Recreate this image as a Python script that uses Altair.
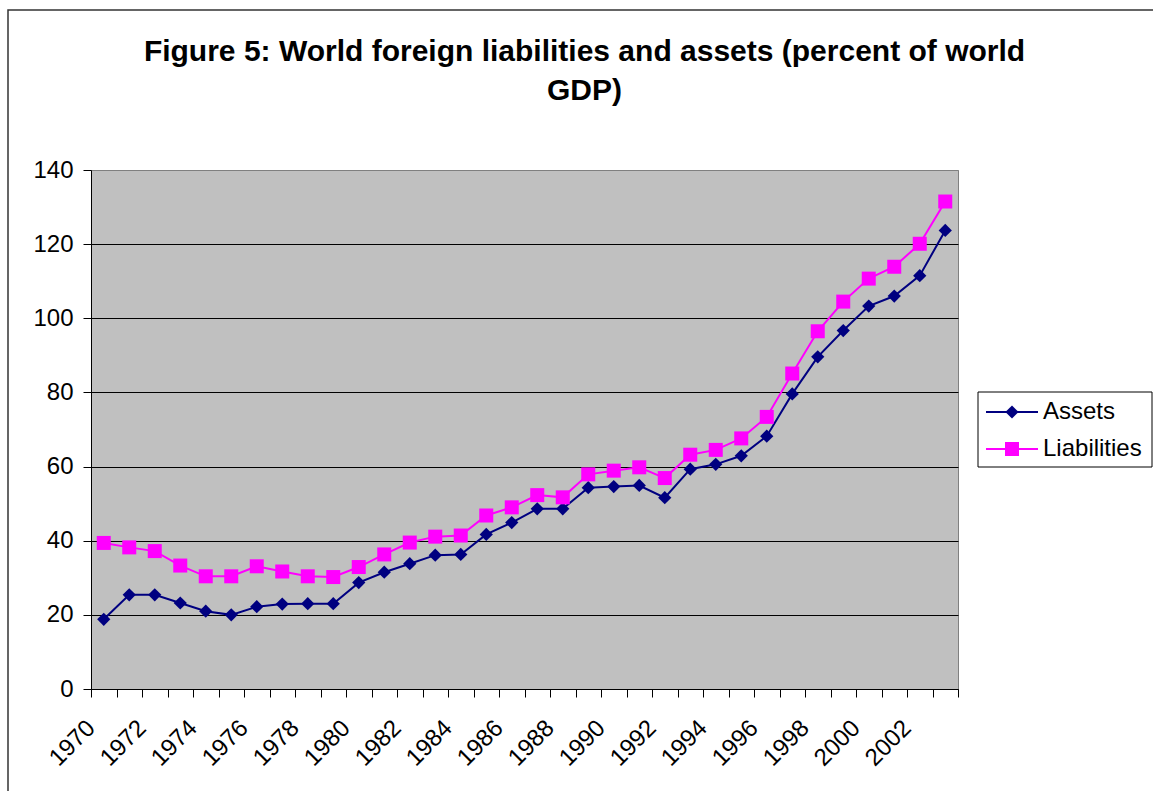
import altair as alt
import pandas as pd

years = list(range(1970, 2004))
assets = [18.8, 25.4, 25.4, 23.2, 21.0, 20.0, 22.2, 22.9, 23.0, 23.0,
          28.7, 31.5, 33.8, 36.1, 36.3, 41.7, 44.9, 48.6, 48.6, 54.3,
          54.6, 54.9, 51.6, 59.3, 60.6, 62.9, 68.2, 79.6, 89.6, 96.7,
          103.3, 106.0, 111.5, 123.7]
liabilities = [39.4, 38.2, 37.2, 33.3, 30.4, 30.4, 33.1, 31.7, 30.4, 30.2,
               32.9, 36.3, 39.5, 41.1, 41.4, 46.8, 49.0, 52.3, 51.7, 57.9,
               58.9, 59.8, 56.9, 63.2, 64.5, 67.6, 73.4, 85.1, 96.5, 104.5,
               110.7, 113.9, 120.1, 131.5]
series_names = ["Assets", "Liabilities"]
series_colors = ["#000080", "#FF00FF"]
series_shapes = ["diamond", "square"]
series_sizes = [175, 196]
y_ticks = [0, 20, 40, 60, 80, 100, 120, 140]
x_boundaries = [y - 0.5 for y in years] + [years[-1] + 0.5]

title_lines = ["Figure 5: World foreign liabilities and assets (percent of world", "GDP)"]

rows = []
for yr, a, l in zip(years, assets, liabilities):
    rows.append({"year": yr, "value": a, "series": "Assets"})
    rows.append({"year": yr, "value": l, "series": "Liabilities"})
df = pd.DataFrame(rows)

FONT = "Arial, Liberation Sans, sans-serif"

x_enc = alt.X(
    "year:Q",
    scale=alt.Scale(domain=[x_boundaries[0], x_boundaries[-1]], nice=False, zero=False),
    axis=alt.Axis(
        values=x_boundaries, title=None, grid=False, tickSize=8, tickColor="black",
        domainColor="black", labelAngle=-45, labelAlign="right", labelBaseline="middle",
        labelPadding=27, labelFont=FONT, labelFontSize=24, labelColor="black",
        labelOverlap=False, labelFlush=False,
        labelExpr="((datum.value + 0.5) % 2 == 0 && datum.value < 2002) ? toString(datum.value + 0.5) : ''",
    ),
)
y_enc = alt.Y(
    "value:Q",
    scale=alt.Scale(domain=[0, 140], nice=False),
    axis=alt.Axis(
        values=y_ticks, title=None, grid=True,
        gridColor={"condition": {"test": "datum.value === 140", "value": "#808080"}, "value": "black"},
        gridWidth=1, tickSize=8, tickColor="black", domainColor="black",
        labelFont=FONT, labelFontSize=24, labelColor="black", labelPadding=10,
    ),
)

lines = alt.Chart(df).mark_line(strokeWidth=2).encode(
    x=x_enc,
    y=y_enc,
    color=alt.Color("series:N", scale=alt.Scale(domain=series_names, range=series_colors), legend=None),
)

points = alt.Chart(df).mark_point(filled=True, opacity=1, strokeWidth=0).encode(
    x=x_enc,
    y=y_enc,
    color=alt.Color("series:N", scale=alt.Scale(domain=series_names, range=series_colors), legend=None),
    shape=alt.Shape("series:N", scale=alt.Scale(domain=series_names, range=series_shapes), legend=None),
    size=alt.Size("series:N", scale=alt.Scale(domain=series_names, range=series_sizes), legend=None),
)

one = alt.Data(values=[{"a": 1}])

frame = alt.Chart(one).mark_rect(
    fill="transparent", stroke="#333333", strokeWidth=1.5
).encode(
    x=alt.value(-83), x2=alt.value(1080), y=alt.value(-160), y2=alt.value(640)
)

# legend (drawn in pixels relative to the plot area's top-left corner)
legend_layers = [
    alt.Chart(one).mark_rect(fill="white", stroke="black", strokeWidth=1).encode(
        x=alt.value(887), x2=alt.value(1061), y=alt.value(222), y2=alt.value(297)
    )
]
for i, (nm, col, shp, sz) in enumerate(zip(series_names, series_colors, series_shapes, series_sizes)):
    ly = 242 + 37 * i
    legend_layers.append(
        alt.Chart(one).mark_rule(color=col, strokeWidth=2).encode(
            x=alt.value(895), x2=alt.value(947), y=alt.value(ly)
        )
    )
    legend_layers.append(
        alt.Chart(one).mark_point(shape=shp, filled=True, size=sz, color=col, opacity=1, strokeWidth=0).encode(
            x=alt.value(921), y=alt.value(ly)
        )
    )
    legend_layers.append(
        alt.Chart(one).mark_text(
            text=nm, align="left", baseline="middle", font=FONT, fontSize=24, color="black"
        ).encode(x=alt.value(952), y=alt.value(ly))
    )

chart = alt.layer(frame, lines, points, *legend_layers).properties(
    width=867,
    height=519,
    background="white",
    title=alt.TitleParams(
        text=title_lines, font=FONT, fontSize=30, fontWeight="bold", color="black",
        anchor="middle", dx=60, lineHeight=39, baseline="bottom", offset=-127,
    ),
    autosize=alt.AutoSizeParams(type="none"),
    padding={"left": 91, "top": 170, "right": 195, "bottom": 102},
).configure_view(
    fill="#C0C0C0", stroke="#808080", strokeWidth=1
)

chart.save("out.html", embed_options={"renderer": "svg", "actions": False})
